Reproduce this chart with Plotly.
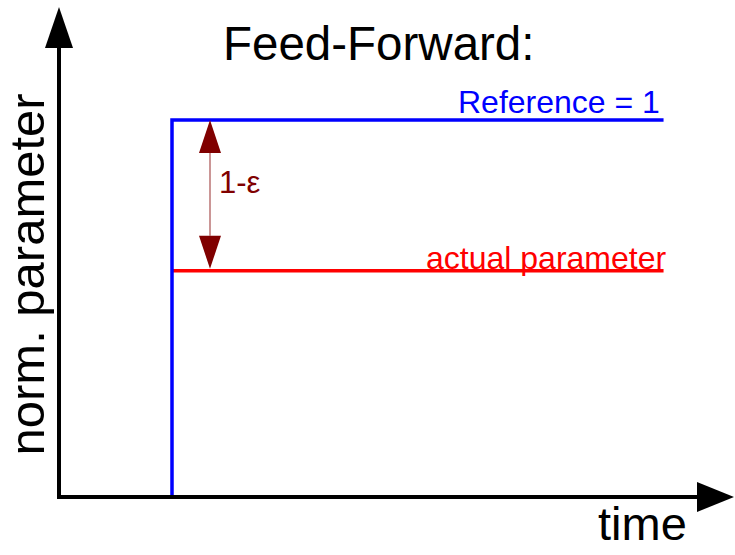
import plotly.graph_objects as go

# ---- data ----
step_time = 1.0
end_time = 5.35
reference_value = 1.0
actual_value = 0.6
ref_time = [step_time, step_time, end_time]
ref_values = [0.0, reference_value, reference_value]
act_time = [step_time, end_time]
act_values = [actual_value, actual_value]

title_text = "Feed-Forward:"
x_label = "time"
y_label = "norm. parameter"
ref_label = "Reference = 1"
act_label = "actual parameter"
gap_label = "1-ε"

W, H = 735, 555
# axis scaling (pixels per unit, and pixel position of origin)
SX, X0 = 113.0, 59.0
SY, Y0 = 377.0, 497.0
x_range = [-X0 / SX, (W - X0) / SX]
y_range = [(Y0 - H) / SY, Y0 / SY]

def dx(px):  # pixel length -> data units (x)
    return px / SX

def dy(px):  # pixel length -> data units (y)
    return px / SY

def px2paper(x, y):
    return x / W, 1 - y / H

BLUE = "#0000ff"
RED = "#ff0000"
MAROON = "#800000"
FONT = "Liberation Sans, Arial, sans-serif"

fig = go.Figure()
fig.add_trace(go.Scatter(x=act_time, y=act_values, mode="lines",
                         line=dict(color=RED, width=3.5), hoverinfo="skip"))
fig.add_trace(go.Scatter(x=ref_time, y=ref_values, mode="lines",
                         line=dict(color=BLUE, width=3.5, shape="linear"), hoverinfo="skip"))

shapes = []
# axes with arrowheads
y_top_tip = y_range[1] - dy(7)
y_arrow_len = dy(41)
x_tip = x_range[1] - dx(1)
x_arrow_len = dx(37)
shapes.append(dict(type="path", xref="x", yref="y",
                   path=f"M0,{y_top_tip - y_arrow_len + dy(2)} L0,0 L{x_tip - x_arrow_len + dx(2)},0",
                   line=dict(color="black", width=4)))
shapes.append(dict(type="path", xref="x", yref="y",
                   path=f"M{-dx(14)},{y_top_tip - y_arrow_len} L{dx(14)},{y_top_tip - y_arrow_len} L0,{y_top_tip} Z",
                   fillcolor="black", line=dict(width=0)))
shapes.append(dict(type="path", xref="x", yref="y",
                   path=f"M{x_tip - x_arrow_len},{dy(15)} L{x_tip - x_arrow_len},{-dy(15)} L{x_tip},0 Z",
                   fillcolor="black", line=dict(width=0)))

# double arrow between reference and actual
ax = step_time + dx(38)
head_len = dy(33)
head_hw = dx(11)
top_tip = reference_value
bot_tip = actual_value + dy(2)
shapes.append(dict(type="line", xref="x", yref="y", x0=ax, x1=ax,
                   y0=top_tip - head_len, y1=bot_tip + head_len,
                   line=dict(color="#a85050", width=1.2)))
shapes.append(dict(type="path", xref="x", yref="y",
                   path=f"M{ax - head_hw},{top_tip - head_len} L{ax + head_hw},{top_tip - head_len} L{ax},{top_tip} Z",
                   fillcolor=MAROON, line=dict(width=0)))
shapes.append(dict(type="path", xref="x", yref="y",
                   path=f"M{ax - head_hw},{bot_tip + head_len} L{ax + head_hw},{bot_tip + head_len} L{ax},{bot_tip} Z",
                   fillcolor=MAROON, line=dict(width=0)))

annotations = []
def add_text(text, px, py, size, color, xanchor="center", yanchor="middle", angle=0):
    xp, yp = px2paper(px, py)
    annotations.append(dict(text=text, x=xp, y=yp, xref="paper", yref="paper",
                            xanchor=xanchor, yanchor=yanchor, showarrow=False,
                            textangle=angle, font=dict(family=FONT, size=size, color=color)))

add_text(title_text, 378.5, 43.2, 47.5, "black")
add_text(x_label, 642.5, 523.7, 47, "black")
add_text(y_label, 26.5, 275, 49, "black", angle=-90)
add_text(ref_label, 662, 102.0, 32, BLUE, xanchor="right")
add_text(act_label, 668, 258.0, 32, RED, xanchor="right")
add_text(gap_label, 217, 182.2, 31, MAROON, xanchor="left")

fig.update_layout(
    width=W, height=H,
    margin=dict(l=0, r=0, t=0, b=0),
    paper_bgcolor="white", plot_bgcolor="white",
    showlegend=False,
    xaxis=dict(range=x_range, visible=False, fixedrange=True),
    yaxis=dict(range=y_range, visible=False, fixedrange=True),
    shapes=shapes, annotations=annotations,
)
fig.write_html("out.html", config={"displayModeBar": False},
               post_script="document.body.style.margin='0';document.body.style.overflow='hidden';")
